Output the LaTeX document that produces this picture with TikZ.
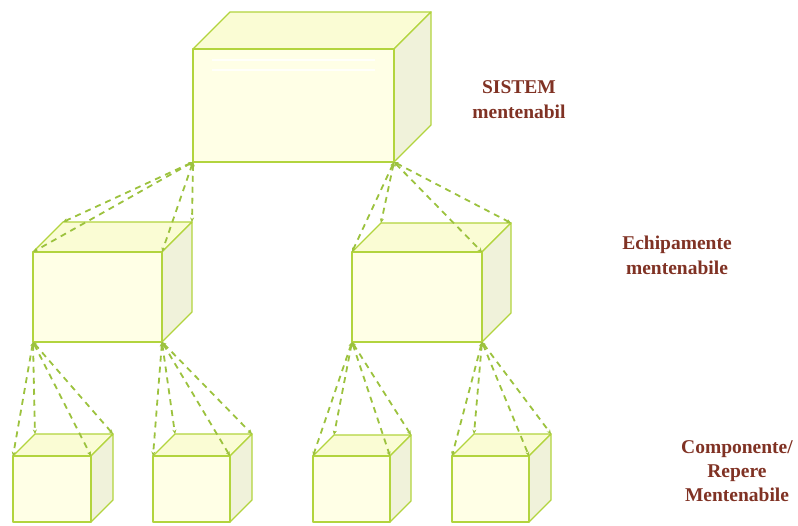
\documentclass[tikz,border=0pt]{standalone}
\usepackage{fontspec}
\setmainfont{Liberation Serif}
\usetikzlibrary{arrows.meta}

\definecolor{edgecol}{RGB}{178,212,62}
\definecolor{linkcol}{RGB}{156,194,62}
\definecolor{frontfill}{RGB}{255,255,230}
\definecolor{topfill}{RGB}{250,252,212}
\definecolor{sidefill}{RGB}{240,242,218}
\definecolor{labelcol}{RGB}{128,50,36}

\tikzset{
  cubeedge/.style={draw=edgecol, line width=1.4pt, line join=round},
  frontface/.style={cubeedge, fill=frontfill},
  topface/.style={cubeedge, fill=topfill},
  sideface/.style={cubeedge, fill=sidefill},
  link/.style={draw=linkcol, line width=1.8pt, dash pattern=on 6pt off 5pt,
    {Stealth[length=4.5pt,width=4pt]}-{Stealth[length=4.5pt,width=4pt]}},
  levellabel/.style={text=labelcol, align=center,
    font=\bfseries\fontsize{19.5}{25}\selectfont}
}

% #1 name, #2 x, #3 y of the front top-left corner, #4 width, #5 height, #6 depth
\newcommand\boxcube[6]{%
  \coordinate (#1-ftl) at (#2,#3);
  \coordinate (#1-ftr) at (#2+#4,#3);
  \coordinate (#1-btl) at (#2+#6,#3-#6);
  \coordinate (#1-btr) at (#2+#4+#6,#3-#6);
  \coordinate (#1-fbl) at (#2,#3+#5);
  \coordinate (#1-fbr) at (#2+#4,#3+#5);
  \coordinate (#1-bbr) at (#2+#4+#6,#3+#5-#6);
  \path[topface] (#1-ftl) -- (#1-btl) -- (#1-btr) -- (#1-ftr) -- cycle;
  \path[sideface] (#1-ftr) -- (#1-btr) -- (#1-bbr) -- (#1-fbr) -- cycle;
  \path[frontface] (#1-ftl) rectangle (#1-fbr);
}

% fan of dashed links from a parent corner to the four top corners of a child
\newcommand\fan[2]{%
  \draw[link] (#1) -- (#2-ftl);
  \draw[link] (#1) -- (#2-btl);
  \draw[link] (#1) -- (#2-ftr);
  \draw[link] (#1) -- (#2-btr);
}

\begin{document}
\begin{tikzpicture}[x=1pt, y=-1pt]
  \useasboundingbox (0,0) rectangle (798,526);

  % system
  \boxcube{sys}{193}{49}{201}{113}{37}
  \draw[white, line width=1.2pt, opacity=0.8] (212,60) -- (375,60);
  \draw[white, line width=1.2pt, opacity=0.8] (212,70) -- (375,70);

  % equipment
  \boxcube{eqa}{33}{252}{129}{90}{30}
  \boxcube{eqb}{352}{252}{130}{90}{29}

  % components
  \boxcube{ca}{13}{456}{78}{66}{22}
  \boxcube{cb}{153}{456}{77}{66}{22}
  \boxcube{cc}{313}{456}{77}{66}{21}
  \boxcube{cd}{452}{456}{77}{66}{22}

  % links
  \fan{sys-fbl}{eqa}
  \fan{sys-fbr}{eqb}
  \fan{eqa-fbl}{ca}
  \fan{eqa-fbr}{cb}
  \fan{eqb-fbl}{cc}
  \fan{eqb-fbr}{cd}

  % level labels
  \node[levellabel] (lsys) at (519,100) {SISTEM\\mentenabil};
  \node[levellabel] (leq) at (677,255) {Echipamente\\mentenabile};
  \node[levellabel, font=\bfseries\fontsize{19.5}{24}\selectfont] (lcomp) at (737,471) {Componente/\\Repere\\Mentenabile};
\end{tikzpicture}
\end{document}
